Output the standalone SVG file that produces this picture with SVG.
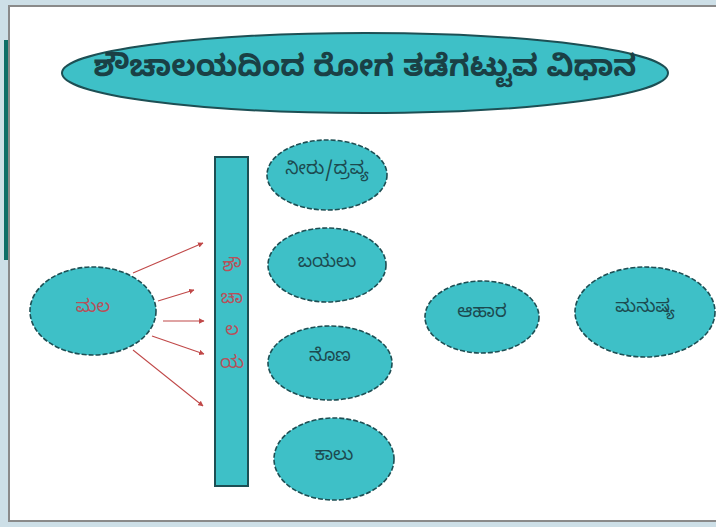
<svg xmlns="http://www.w3.org/2000/svg" width="716" height="527" viewBox="0 0 716 527">
<defs>
<style>
.node{fill:#3ec0c7;stroke:#1d4f54;stroke-width:1.6;stroke-dasharray:5 2}
.lbl{font-family:"Noto Sans Kannada","Noto Sans",sans-serif;font-size:18px;fill:#1c4a50;text-anchor:middle;dominant-baseline:central}
.red{fill:#b8505a}
.conn{stroke:#c04848;stroke-width:1.1;fill:none;marker-end:url(#ah)}
</style>
<marker id="ah" viewBox="0 0 10 10" refX="9" refY="5" markerWidth="5" markerHeight="5" orient="auto"><path d="M0,0 L10,5 L0,10 z" fill="#c04848"/></marker>
</defs>
<rect x="0" y="0" width="716" height="527" fill="#cddfe7"/>
<rect x="4" y="40" width="7" height="220" fill="#0f6e68"/>
<rect x="9" y="6" width="720" height="515" fill="#ffffff" stroke="#8a8a8a" stroke-width="2"/>
<g id="title">
<ellipse cx="365" cy="73" rx="303" ry="40" class="node" style="stroke-dasharray:none;stroke-width:2"/>
<text x="365" y="72" class="lbl" style="font-size:30px;font-weight:bold;fill:#1a4045">ಶೌಚಾಲಯದಿಂದ ರೋಗ ತಡೆಗಟ್ಟುವ ವಿಧಾನ</text>
</g>
<g id="bar">
<rect x="215" y="157" width="33" height="329" fill="#3ec0c7" stroke="#1d4f54" stroke-width="2"/>
<text x="232" y="268" class="lbl red">ಶೌ</text>
<text x="232" y="300" class="lbl red">ಚಾ</text>
<text x="232" y="332" class="lbl red">ಲ</text>
<text x="232" y="365" class="lbl red">ಯ</text>
</g>
<g id="mala">
<ellipse cx="93" cy="311" rx="63" ry="44" class="node"/>
<text x="93" y="309" class="lbl red">ಮಲ</text>
</g>
<g id="neeru">
<ellipse cx="327" cy="175" rx="60" ry="35" class="node"/>
<text x="327" y="171" class="lbl">ನೀರು/ದ್ರವ್ಯ</text>
</g>
<g id="bayalu">
<ellipse cx="327" cy="265" rx="59" ry="37" class="node"/>
<text x="327" y="264" class="lbl">ಬಯಲು</text>
</g>
<g id="nona">
<ellipse cx="330" cy="363" rx="62" ry="37" class="node"/>
<text x="330" y="358" class="lbl">ನೊಣ</text>
</g>
<g id="kaalu">
<ellipse cx="334" cy="459" rx="60" ry="41" class="node"/>
<text x="334" y="457" class="lbl">ಕಾಲು</text>
</g>
<g id="aahaara">
<ellipse cx="482" cy="317" rx="57" ry="36" class="node"/>
<text x="482" y="314" class="lbl">ಆಹಾರ</text>
</g>
<g id="manushya">
<ellipse cx="645" cy="312" rx="70" ry="45" class="node"/>
<text x="645" y="309" class="lbl">ಮನುಷ್ಯ</text>
</g>
<g id="connectors">
<line x1="133" y1="273" x2="203" y2="243" class="conn"/>
<line x1="158" y1="301" x2="194" y2="290" class="conn"/>
<line x1="163" y1="321" x2="204" y2="321" class="conn"/>
<line x1="152" y1="336" x2="204" y2="354" class="conn"/>
<line x1="133" y1="350" x2="203" y2="406" class="conn"/>
</g>
</svg>
